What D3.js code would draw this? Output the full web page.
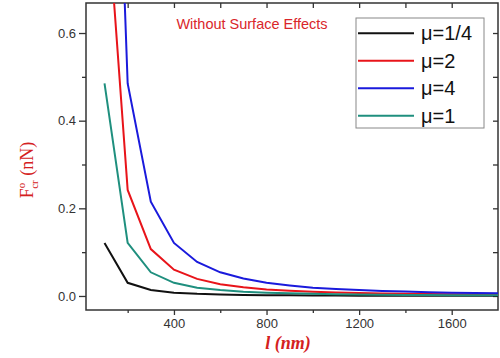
<!DOCTYPE html>
<html><head><meta charset="utf-8">
<script src="https://cdn.jsdelivr.net/npm/d3@7"></script>
<style>body{margin:0;background:#fff}svg{display:block}</style>
</head><body>
<script>
const lengths = [100,200,300,400,500,600,700,800,900,1000,1100,1200,1300,1400,1500,1600,1700,1800];
const mu_quarter = [0.121,0.030,0.0135,0.0076,0.0049,0.0034,0.0025,0.0019,0.0015,0.0012,0.0010,0.0008,0.0007,0.0006,0.0005,0.0005,0.0004,0.0004];
const mu_2 = [0.97,0.242,0.107,0.060,0.039,0.027,0.020,0.015,0.012,0.0097,0.008,0.0067,0.0057,0.005,0.0043,0.0038,0.0034,0.003];
const mu_4 = [1.94,0.485,0.215,0.121,0.0776,0.054,0.040,0.030,0.024,0.019,0.016,0.0135,0.0115,0.010,0.0086,0.0076,0.0067,0.006];
const mu_1 = [0.485,0.121,0.054,0.030,0.019,0.0135,0.0099,0.0076,0.006,0.0049,0.004,0.0034,0.0029,0.0025,0.0022,0.0019,0.0017,0.0015];
const seriesNames = ["μ=1/4","μ=2","μ=4","μ=1"];
const seriesColors = ["#111111","#e8141a","#1a1adc","#1f8f7e"];
const seriesValues = [mu_quarter, mu_2, mu_4, mu_1];
const xMajor = [400,800,1200,1600];
const xMinor = [200,600,1000,1400];
const yMajor = [0.0,0.2,0.4,0.6];
const yMinor = [0.1,0.3,0.5];

const W=500,H=358;
const L=86,R=498,T=3,B=310;
const svg=d3.select("body").append("svg").attr("width",W).attr("height",H);
const x=d3.scaleLinear().domain([20,1800]).range([L,R]);
const y=d3.scaleLinear().domain([-0.032,0.6685]).range([B,T]);

svg.append("defs").append("clipPath").attr("id","clip")
  .append("rect").attr("x",L).attr("y",T).attr("width",R-L).attr("height",B-T);

const axisColor="#333";
svg.append("g").attr("transform",`translate(0,${B})`)
  .call(d3.axisBottom(x).tickValues(xMajor).tickSize(5).tickPadding(4).tickFormat(d3.format("d")));
svg.append("g").attr("transform",`translate(0,${B})`)
  .call(d3.axisBottom(x).tickValues(xMinor).tickSize(3).tickFormat(""));
svg.append("g").attr("transform",`translate(${L},0)`)
  .call(d3.axisLeft(y).tickValues(yMajor).tickSize(7).tickPadding(3).tickFormat(d3.format(".1f")));
svg.append("g").attr("transform",`translate(${L},0)`)
  .call(d3.axisLeft(y).tickValues(yMinor).tickSize(4).tickFormat(""));
svg.append("g").attr("transform",`translate(0,${T})`)
  .call(d3.axisBottom(x).tickValues(xMajor.concat(xMinor)).tickSize(5).tickFormat(""));
svg.append("g").attr("transform",`translate(${R},0)`)
  .call(d3.axisLeft(y).tickValues(yMajor.concat(yMinor)).tickSize(5).tickFormat(""));
svg.selectAll(".domain").remove();
svg.selectAll(".tick line").attr("stroke",axisColor).attr("stroke-width",1.3);
svg.selectAll(".tick text").attr("fill","#333").style("font-family","'Liberation Sans',Arial,sans-serif").style("font-size","13px");
svg.append("rect").attr("x",L).attr("y",T).attr("width",R-L).attr("height",B-T)
  .attr("fill","none").attr("stroke",axisColor).attr("stroke-width",1.5);

const line=d3.line().x((d,i)=>x(lengths[i])).y(d=>y(d));
const gl=svg.append("g").attr("clip-path","url(#clip)");
seriesValues.forEach((vals,k)=>{
  gl.append("path").datum(vals).attr("d",line).attr("fill","none")
    .attr("stroke",seriesColors[k]).attr("stroke-width",2);
});

svg.append("text").attr("x",252).attr("y",29).attr("text-anchor","middle")
  .attr("fill","#d9262b").style("font-family","'Liberation Sans',Arial,sans-serif").style("font-size","14.5px")
  .text("Without Surface Effects");

const lg=svg.append("g");
lg.append("rect").attr("x",356).attr("y",18).attr("width",128).attr("height",110)
  .attr("fill","#fff").attr("stroke","#888").attr("stroke-width",1);
const legY=[33.3,60.7,88.3,115.7];
seriesNames.forEach((n,k)=>{
  lg.append("line").attr("x1",358).attr("x2",414).attr("y1",legY[k]).attr("y2",legY[k])
    .attr("stroke",seriesColors[k]).attr("stroke-width",2);
  lg.append("text").attr("x",421).attr("y",legY[k]+7).attr("fill","#111")
    .style("font-family","'Liberation Sans',Arial,sans-serif").style("font-size","20px").text(n);
});

svg.append("text").attr("x",288).attr("y",349).attr("text-anchor","middle")
  .attr("fill","#d42020").style("font-family","'Liberation Serif','Times New Roman',serif")
  .style("font-size","18px").style("font-weight","bold").style("font-style","italic").text("l (nm)");

const yl=svg.append("text").attr("transform","translate(33,170) rotate(-90)").attr("text-anchor","middle")
  .attr("fill","#d42020").style("font-family","'Liberation Serif','Times New Roman',serif").style("font-size","18px");
yl.append("tspan").text("F");
yl.append("tspan").attr("dy",-8).style("font-size","11px").text("o");
yl.append("tspan").attr("dx",-6).attr("dy",13).style("font-size","11px").text("cr");
yl.append("tspan").attr("dy",-5).text(" (nN)");
</script>
</body></html>
